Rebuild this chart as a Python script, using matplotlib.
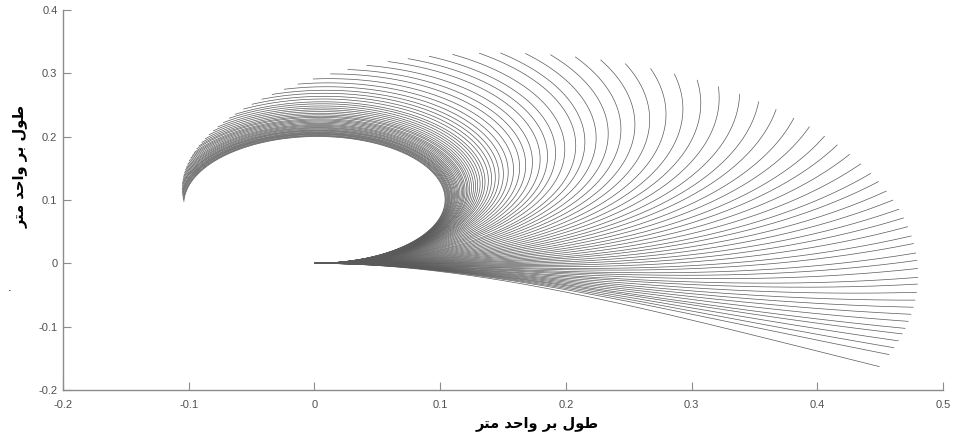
import numpy as np
import matplotlib
matplotlib.use('Agg')
from matplotlib import pyplot as plt

# tip of every rod (metres), outermost (lowest) curve first
tip_x = [0.449, 0.457, 0.461, 0.465, 0.468, 0.470, 0.473, 0.475, 0.477, 0.479,
         0.480, 0.481, 0.481, 0.481, 0.480, 0.480, 0.478, 0.476, 0.473, 0.470,
         0.466, 0.461, 0.457, 0.450, 0.444, 0.436, 0.427, 0.417, 0.407, 0.395,
         0.382, 0.368, 0.354, 0.339, 0.322, 0.305, 0.287, 0.268, 0.248, 0.228,
         0.208, 0.188, 0.168, 0.148, 0.131, 0.110, 0.091, 0.074, 0.058, 0.041,
         0.026, 0.012, -0.002, -0.014, -0.025, -0.035, -0.043, -0.051, -0.058, -0.065,
         -0.070, -0.075, -0.079, -0.083, -0.086, -0.089, -0.092, -0.094, -0.095, -0.097,
         -0.098, -0.099, -0.100, -0.101, -0.102, -0.103, -0.104, -0.105, -0.105, -0.105,
         -0.106, -0.106, -0.106, -0.106, -0.106, -0.106, -0.107, -0.107, -0.107, -0.107,
         -0.107]
tip_y = [-0.163, -0.144, -0.133, -0.123, -0.112, -0.103, -0.092, -0.081, -0.070, -0.059,
         -0.046, -0.033, -0.022, -0.008, 0.005, 0.017, 0.032, 0.044, 0.059, 0.073,
         0.087, 0.101, 0.117, 0.131, 0.145, 0.160, 0.175, 0.190, 0.205, 0.220,
         0.232, 0.246, 0.259, 0.272, 0.284, 0.294, 0.303, 0.313, 0.319, 0.325,
         0.332, 0.335, 0.337, 0.338, 0.338, 0.335, 0.333, 0.329, 0.324, 0.318,
         0.311, 0.305, 0.297, 0.289, 0.281, 0.273, 0.265, 0.256, 0.249, 0.242,
         0.236, 0.229, 0.221, 0.215, 0.208, 0.201, 0.195, 0.189, 0.183, 0.177,
         0.172, 0.167, 0.162, 0.157, 0.152, 0.148, 0.144, 0.140, 0.136, 0.132,
         0.128, 0.125, 0.122, 0.118, 0.115, 0.112, 0.109, 0.106, 0.102, 0.099,
         0.096]

xticks = [-0.2, -0.1, 0, 0.1, 0.2, 0.3, 0.4, 0.5]
xtick_labels = ['-0.2', '-0.1', '0', '0.1', '0.2', '0.3', '0.4', '0.5']
yticks = [-0.2, -0.1, 0, 0.1, 0.2, 0.3, 0.4]
ytick_labels = ['-0.2', '-0.1', '0', '0.1', '0.2', '0.3', '0.4']

# "طول بر واحد متر" as shaped glyphs in display order (matplotlib does no shaping)
label_fa = '\ufeae\ufe98\ufee3 \ufeaa\ufea3\ufe8d\ufeed \ufeae\ufe91 \ufedd\ufeee\ufec3'

L = 0.482   # rod length
N = 400


def rod(k0, q, keep=False):
    # clamped rod bending under its own weight + tip moment
    # theta' = k,  k' = q (L - s) cos(theta)
    ds = L / N
    th = np.zeros(np.broadcast(k0, q).shape)
    k = th + k0
    x = np.zeros_like(th)
    y = np.zeros_like(th)
    xs, ys = [x], [y]
    for i in range(N):
        s = i * ds
        t1 = k
        m1 = q * (L - s) * np.cos(th)
        a = th + 0.5 * ds * t1
        t2 = k + 0.5 * ds * m1
        m2 = q * (L - s - 0.5 * ds) * np.cos(a)
        b = th + 0.5 * ds * t2
        t3 = k + 0.5 * ds * m2
        m3 = q * (L - s - 0.5 * ds) * np.cos(b)
        c = th + ds * t3
        t4 = k + ds * m3
        m4 = q * (L - s - ds) * np.cos(c)
        x = x + ds / 6 * (np.cos(th) + 2 * np.cos(a) + 2 * np.cos(b) + np.cos(c))
        y = y + ds / 6 * (np.sin(th) + 2 * np.sin(a) + 2 * np.sin(b) + np.sin(c))
        th = th + ds / 6 * (t1 + 2 * t2 + 2 * t3 + t4)
        k = k + ds / 6 * (m1 + 2 * m2 + 2 * m3 + m4)
        if keep:
            xs.append(x)
            ys.append(y)
    if keep:
        return np.array(xs), np.array(ys)
    return k, x, y


# weight parameter: lowest rod carries no tip moment
q_try = np.linspace(15, 35, 101)
kL, xL, yL = rod(np.linspace(-6, 0, 1201)[None, :], q_try[:, None])
err = [abs(np.interp(0.0, kL[j], yL[j]) - tip_y[0]) for j in range(len(q_try))]
q = q_try[int(np.argmin(err))]

k0_all = np.linspace(-6, 15, 4201)
px, py = rod(k0_all, q, keep=True)

fig = plt.figure(figsize=(9.55, 4.38), dpi=100)
ax = fig.add_axes([63 / 955, 48 / 438, 880 / 955, 380 / 438])

for tx, ty in zip(tip_x, tip_y):
    d = ((px[-1] - tx) * 1257) ** 2 + ((py[-1] - ty) * 633) ** 2
    j = int(np.argmin(d))
    ax.plot(px[:, j], py[:, j], color='#5a5a5a', lw=0.5)

ax.set_xlim(-0.2, 0.5)
ax.set_ylim(-0.2, 0.4)
ax.set_xticks(xticks)
ax.set_xticklabels(xtick_labels)
ax.set_yticks(yticks)
ax.set_yticklabels(ytick_labels)
for side in ['top', 'right']:
    ax.spines[side].set_visible(False)
for side in ['left', 'bottom']:
    ax.spines[side].set_color('#8c8c8c')
    ax.spines[side].set_linewidth(1.0)
ax.tick_params(direction='in', length=6, width=0.8, color='#8c8c8c',
               labelsize=8, labelcolor='#505050')
ax.tick_params(axis='x', pad=7)
ax.tick_params(axis='y', pad=4)
for lab in ax.get_xticklabels() + ax.get_yticklabels():
    lab.set_family('Liberation Sans')

fig.text(0.562, 0.032, label_fa, ha='center', va='center', fontsize=10.5,
         fontweight='bold', family=['DejaVu Sans'])
fig.text(0.021, 0.620, label_fa, ha='center', va='center', fontsize=10.5,
         fontweight='bold', rotation=90, family=['DejaVu Sans'])
fig.text(0.0105, 1 - 291 / 438, '.', ha='center', va='baseline', fontsize=8)

fig.savefig('out.png', dpi=100)
